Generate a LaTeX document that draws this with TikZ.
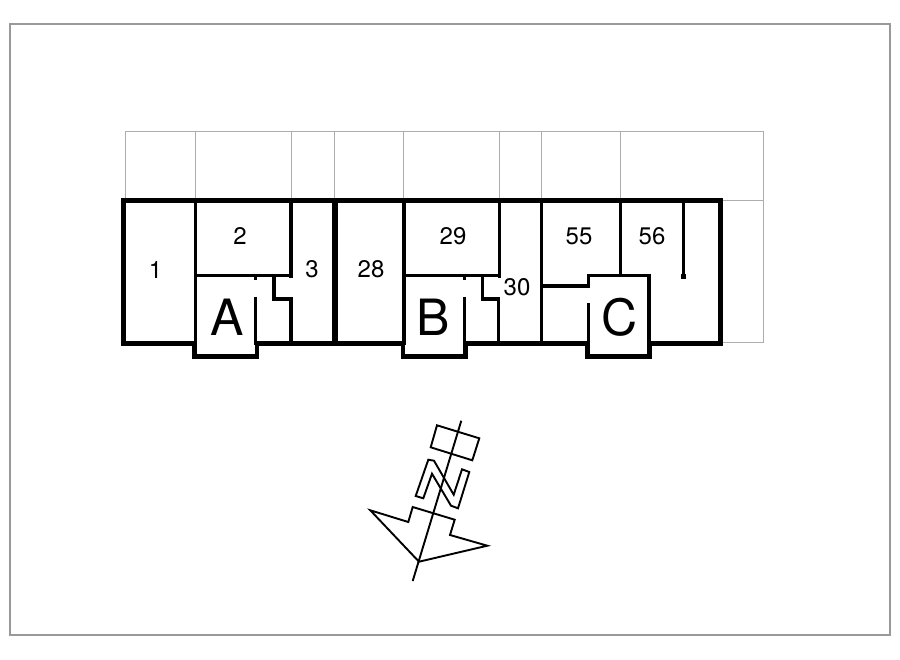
\documentclass[tikz,border=0pt]{standalone}
\usepackage{fontspec}
\setmainfont{TeX Gyre Heros}
\definecolor{gridgrey}{gray}{0.68}
\definecolor{framegrey}{gray}{0.6}
\begin{document}
\begin{tikzpicture}[x=1pt,y=-1pt,
  grid/.style={draw=gridgrey,line width=1pt},
  frame/.style={draw=framegrey,line width=1.2pt},
  outer/.style={draw=black,line width=5pt,line join=miter},
  wall/.style={draw=black,line width=3.4pt,line join=miter},
  fat/.style={draw=black,line width=4.7pt,line join=miter},
  num/.style={font=\fontsize{24}{24}\selectfont,text=black,inner sep=0pt},
  big/.style={font=\fontsize{50}{50}\selectfont,text=black,inner sep=0pt},
  comp/.style={draw=black,line width=1.9pt,line join=miter}]
\useasboundingbox (0,0) rectangle (900,659);
\draw[frame] (10,24) rectangle (890,635);
% plot grid
\draw[grid] (125.3,200) -- (125.3,131.3) -- (763.7,131.3) -- (763.7,342) -- (722,342);
\draw[grid] (722,200) -- (763.7,200);
\foreach \x in {195.3,291.3,334.3,403.3,499.7,541.3,620.3}
  \draw[grid] (\x,131.3) -- (\x,200);
% outer walls
\draw[outer] (195.7,343.7) -- (123.7,343.7) -- (123.7,200) -- (720.7,200) -- (720.7,343.7) -- (649,343.7);
\draw[outer] (255.7,343.7) -- (404,343.7);
\draw[outer] (464.7,343.7) -- (588.3,343.7);
\draw[draw=black,line width=6pt] (335,200) -- (335,343.7);
% unit A
\draw[wall] (195.7,200) -- (195.7,345);
\draw[wall] (195.7,275.7) -- (291,275.7);
\draw[wall] (291,200) -- (291,278);
\draw[wall] (274,275.7) -- (274,299) -- (291,299) -- (291,343.7);
\draw[wall] (255.7,275.7) -- (255.7,280);
\draw[wall] (255.7,296.7) -- (255.7,345);
\draw[fat] (194.6,343) -- (194.6,356.3) -- (256.9,356.3) -- (256.9,343);
% unit B
\draw[wall] (404,200) -- (404,345);
\draw[wall] (404,275.7) -- (499.3,275.7);
\draw[wall] (499.3,200) -- (499.3,278);
\draw[wall] (482.3,275.7) -- (482.3,299) -- (498.7,299) -- (498.7,343.7);
\draw[wall] (464.7,275.7) -- (464.7,280);
\draw[wall] (464.7,296.7) -- (464.7,345);
\draw[fat] (403,343) -- (403,356.3) -- (465.4,356.3) -- (465.4,343);
% unit C
\draw[wall] (541.3,200) -- (541.3,343.7);
\draw[wall] (541.3,286) -- (588.3,286) -- (588.3,275.7) -- (649,275.7) -- (649,345);
\draw[wall] (620.3,200) -- (620.3,275.7);
\draw[wall] (683.7,200) -- (683.7,276);
\draw[draw=black,line width=4.4pt] (683.5,274) -- (683.5,278.5);
\draw[wall] (588.3,303) -- (588.3,345);
\draw[fat] (587.5,343) -- (587.5,356.3) -- (649.8,356.3) -- (649.8,343);
% labels
\node[num] (n1) at (155.5,270) {1};
\node[num] (n2) at (240,236) {2};
\node[num] (n3) at (312,269) {3};
\node[num] (n28) at (371,269) {28};
\node[num] (n29) at (453,236) {29};
\node[num] (n30) at (517,287) {30};
\node[num] (n55) at (579,236) {55};
\node[num] (n56) at (652,236) {56};
\node[big] (la) at (227,317) {A};
\node[big] (lb) at (433,317) {B};
\node[big] (lc) at (620,317) {C};
% north arrow
\draw[comp] (461.3,420.7) -- (412.7,581);
\draw[comp] (437,425.3) -- (479.3,438.3) -- (472.3,460.3) -- (430.7,447.3) -- cycle;
\draw[comp] (415.7,496) -- (428.3,459.7) -- (434,460.7) -- (453.7,494.7) -- (462,469.3) -- (469.3,472) -- (458,508.3) -- (451,505.7) -- (432,473.7) -- (423.3,498.3) -- cycle;
\draw[comp] (370.3,510.3) -- (408.3,522) -- (412.7,507) -- (454.7,519.7) -- (450,535) -- (487.3,545.7) -- (419,561.7) -- cycle;
\end{tikzpicture}
\end{document}
